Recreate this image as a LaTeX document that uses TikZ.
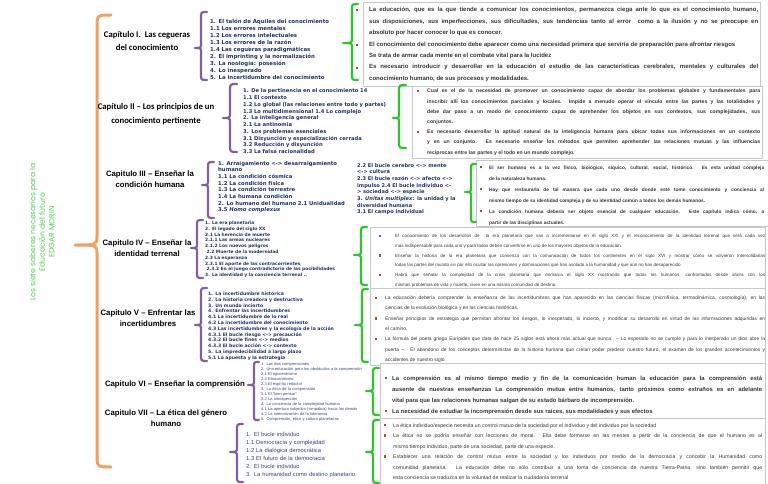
\documentclass[tikz,border=0pt]{standalone}
\usepackage{fontspec}
\setmainfont{Liberation Sans}
\newfontfamily\carl{Carlito}
\newfontfamily\dvs{DejaVu Sans}
\newfontfamily\pop{Poppins}
\definecolor{orangeb}{RGB}{240,160,96}
\definecolor{purpleb}{RGB}{128,96,160}
\definecolor{greenb}{RGB}{40,200,40}
\definecolor{titlegreen}{RGB}{80,210,80}
\definecolor{navy}{RGB}{31,52,110}
\definecolor{navyb}{RGB}{50,70,140}
\definecolor{pgray}{RGB}{55,55,55}
\definecolor{boxgray}{RGB}{200,200,200}
\definecolor{bred}{RGB}{200,60,50}
\newcommand{\setfs}[2]{\fontsize{#1}{#2}\selectfont}
% style, x, top, tip, bottom, hook width, tip length, tip radius
\newcommand{\mybrace}[8]{%
  \draw[#1] ({#2+#6},#3) .. controls (#2,#3) .. (#2,{#3+#6}) -- (#2,{#4-#8})
    .. controls (#2,#4) .. ({#2-#7},#4) .. controls (#2,#4) .. (#2,{#4+#8})
    -- (#2,{#5-#6}) .. controls (#2,#5) .. ({#2+#6},#5);}
\begin{document}
\begin{tikzpicture}[x=1pt,y=-1pt,
  chapA/.style={align=center, inner sep=0, text=black, font=\carl\bfseries\setfs{8.7}{13.5}},
  chapB/.style={align=center, inner sep=0, text=black, font=\bfseries\setfs{7.8}{11}},
  lst/.style={anchor=base west, inner sep=0, text width=200pt, align=left, text=navy},
  para/.style={anchor=base west, inner sep=0, align=justify, text=pgray,
    execute at begin node={\tolerance=10000\hbadness=10000\hfuzz=20pt\hyphenpenalty=10000\linepenalty=5000}},
  pbox/.style={draw=boxgray, line width=0.6pt, anchor=north west, inner sep=0, fill=white},
  bul/.style={fill=bred, minimum size=2.4pt, inner sep=0},
  obrace/.style={draw=orangeb, line width=3pt, line cap=round, line join=round},
  pbrace/.style={draw=purpleb, line width=2.2pt, line cap=round, line join=round},
  gbrace/.style={draw=greenb, line width=2.2pt, line cap=round, line join=round}]
\fill[white] (0,0) rectangle (768,484);
\useasboundingbox (0,0) rectangle (768,484);

% boxes
\node[pbox, minimum width=397pt, minimum height=84pt] (box1) at (363,2) {};
\node[pbox, minimum width=350pt, minimum height=72pt] (box2) at (412,86) {};
\node[pbox, minimum width=300pt, minimum height=66pt] (box3) at (476,160) {};
\node[pbox, minimum width=395pt, minimum height=61pt] (box4) at (370,227) {};
\node[pbox, minimum width=395pt, minimum height=77pt] (box5) at (370,288) {};
\node[pbox, minimum width=385pt, minimum height=55pt] (box6) at (380,363) {};
\node[pbox, minimum width=385pt, minimum height=70pt] (box7) at (380,418) {};

% title
\node[rotate=90, align=center, inner sep=0, text=titlegreen, font=\pop\setfs{7.6}{9.6}] (title) at (42,232)
  {Los siete saberes necesarios para la\\Educación del futuro\\EDGAR MORIN};

% main brace
\mybrace{obrace}{97}{15}{245}{467}{14}{22}{9}

% chapters
\node[chapA] (c1) at (147,41) {Capítulo I.\ \ Las cegueras\\del conocimiento};
\node[chapA] (c2) at (156,114) {Capítulo II – Los principios de un\\conocimiento pertinente};
\node[chapB] (c3) at (150,179) {Capitulo III – Enseñar la\\condición humana};
\node[chapB] (c4) at (147,248) {Capitulo IV – Enseñar la\\identidad terrenal};
\node[chapB] (c5) at (148,318) {Capitulo V – Enfrentar las\\incertidumbres};
\node[chapB] (c6) at (175,384) {Capitulo VI – Enseñar la comprensión};
\node[chapB] (c7) at (166,418) {Capitulo VII – La ética del género\\humano};

% purple braces
\mybrace{pbrace}{201}{12}{48}{80}{6}{6}{5}
\mybrace{pbrace}{230}{84}{118}{152}{7}{7}{5}
\mybrace{pbrace}{208}{162}{185}{218}{6}{6}{5}
\mybrace{pbrace}{197}{220}{248}{278}{6}{6}{5}
\mybrace{pbrace}{201}{288}{325}{361}{6}{6}{5}
\mybrace{pbrace}{254}{362}{385}{420}{5}{6}{5}
\mybrace{pbrace}{237}{424}{452}{482}{6}{7}{5}

% lists
\node[lst, font=\dvs\bfseries\setfs{5.4}{6.9}] (l1) at (210,24) {1. El talón de Aquiles del conocimiento\\1.1 Los errores mentales\\1.2 Los errores intelectuales\\1.3 Los errores de la razón\\1.4 Las cegueras paradigmáticas\\2. El imprinting y la normalización\\3. La noología: posesión\\4. Lo inesperado\\5. La incertidumbre del conocimiento};
\node[lst, font=\dvs\bfseries\setfs{5.2}{6.75}] (l2) at (243,93) {1. De la pertinencia en el conocimiento 14\\1.1 El contexto\\1.2 Lo global (las relaciones entre todo y partes)\\1.3 Lo multidimensional 1.4 Lo complejo\\2. La inteligencia general\\2.1 La antinomia\\3. Los problemas esenciales\\3.1 Disyunción y especialización cerrada\\3.2 Reducción y disyunción\\3.3 La falsa racionalidad};
\node[lst, font=\dvs\bfseries\setfs{5.3}{6.7}] (l3a) at (218,165) {1. Arraigamiento <-> desarraigamiento\\humano\\1.1 La condición cósmica\\1.2 La condición física\\1.3 La condición terrestre\\1.4 La humana condición\\2. Lo humano del humano 2.1 Unidualidad\\3.5 \textit{Homo complexus}};
\node[lst, font=\dvs\bfseries\setfs{5.1}{6.7}] (l3b) at (357,167) {2.2 El bucle cerebro <-> mente\\<-> cultura\\2.3 El bucle razón <-> afecto <->\\impulso 2.4 El bucle individuo <-\\> sociedad <-> especie\\3. \textit{Unitas multiplex}: la unidad y la\\diversidad humana\\3.1 El campo individual};
\node[lst, font=\dvs\bfseries\setfs{4.4}{5.8}] (l4) at (205,224.5) {1. La era planetaria\\2. El legado del siglo XX\\2.1 La herencia de muerte\\2.1.1 Las armas nucleares\\2.1.2 Los nuevos peligros\\\ 2.2 Muerte de la modernidad\\2.3 La esperanza\\2.3.1 El aporte de las contracorrientes\\\ 2.3.2 En el juego contradictorio de las posibilidades\\3. La identidad y la conciencia terrenal ..};
\node[lst, font=\dvs\bfseries\setfs{4.6}{5.8}] (l5) at (208,295.5) {1. La incertidumbre histórica\\2. La historia creadora y destructiva\\3. Un mundo incierto\\4. Enfrentar las incertidumbres\\4.1 La incertidumbre de lo real\\4.2 La incertidumbre del conocimiento\\4.3 Las incertidumbres y la ecología de la acción\\4.3.1 El bucle riesgo <-> precaución\\4.3.2 El bucle fines <-> medios\\4.3.3 El bucle acción <-> contexto\\5. La impredecibilidad a largo plazo\\5.1 La apuesta y la estrategia};
\node[lst, text=navyb, font=\setfs{4}{5}] (l6) at (261,365.5) {1. Las dos comprensiones\\2. Una educación para los obstáculos a la comprensión\\2.1 El egocentrismo\\2.2 Etnocentrismo\\2.3 El espíritu reductor\\3. La ética de la comprensión\\3.1 El “bien pensar”\\3.2 La introspección\\4. La conciencia de la complejidad humana\\4.1 La apertura subjetiva (simpática) hacia los demás\\4.2 La interiorización de la tolerancia\\5. Comprensión, ética y cultura planetarias};
\node[lst, text=navyb, font=\setfs{5.8}{8}] (l7) at (246,436) {1. El bucle individuo\\1.1 Democracia y complejidad\\1.2 La dialógica democrática\\1.3 El futuro de la democracia\\2. El bucle individuo\\3. La humanidad como destino planetario};

% green braces
\mybrace{gbrace}{352}{4}{43}{80}{6}{9}{5}
\mybrace{gbrace}{399}{85}{118}{148}{7}{6}{5}
\mybrace{gbrace}{471}{164}{192}{222}{5}{6}{5}
\mybrace{gbrace}{361}{227}{255}{285}{6}{7}{5}
\mybrace{gbrace}{362}{289}{325}{362}{6}{7}{5}
\mybrace{gbrace}{373}{368}{391}{415}{6}{7}{5}
\mybrace{gbrace}{373}{420}{452}{483}{6}{7}{5}

% paragraphs
\node[para, text width=389pt, font=\bfseries\setfs{6.0}{11.4}] (p1) at (369,12) {La educación, que es la que tiende a comunicar los conocimientos, permanezca ciega ante lo que es el conocimiento humano, \linebreak sus disposiciones, sus imperfecciones, sus dificultades, sus tendencias tanto al error\ \ como a la ilusión y no se preocupe en \linebreak absoluto por hacer conocer lo que es conocer.\par
El conocimiento del conocimiento debe aparecer como una necesidad primera que serviría de preparación para afrontar riesgos\par
Se trata de armar cada mente en el combate vital para la lucidez\par
Es necesario introducir y desarrollar en la educación el estudio de las características cerebrales, mentales y culturales del \linebreak conocimiento humano, de sus procesos y modalidades.};

\node[para, text width=333pt, font=\bfseries\setfs{5.15}{10.2}] (p2) at (427,93) {Cual es el de la necesidad de promover un conocimiento capaz de abordar los problemas globales y fundamentales para \linebreak inscribir allí los conocimientos parciales y locales. Impide a menudo operar el vínculo entre las partes y las totalidades y \linebreak debe dar paso a un modo de conocimiento capaz de aprehender los objetos en sus contextos, sus complejidades, sus \linebreak conjuntos.\par
Es necesario desarrollar la aptitud natural de la inteligencia humana para ubicar todas sus informaciones en un contexto \linebreak y en un conjunto. Es necesario enseñar los métodos que permiten aprehender las relaciones mutuas y las influencias \linebreak recíprocas entre las partes y el todo en un mundo complejo.};

\node[para, text width=275pt, font=\bfseries\setfs{4.8}{11}] (p3) at (489,169) {El ser humano es a la vez físico, biológico, síquico, cultural, social, histórico. Es esta unidad compleja \linebreak de la naturaleza humana.\par
Hay que restaurarla de tal manera que cada uno desde donde esté tome conocimiento y conciencia al \linebreak mismo tiempo de su identidad compleja y de su identidad común a todos los demás humanos.\par
La condición humana debería ser objeto esencial de cualquier educación. Este capítulo indica cómo, a \linebreak partir de las disciplinas actuales.};

\node[para, text width=370pt, font=\setfs{4.5}{9.8}] (p4) at (395,237.5) {El conocimiento de los desarrollos de\ \ la era planetaria que van a incrementarse en el siglo XXI y el reconocimiento de la identidad terrenal que será cada vez \linebreak más indispensable para cada uno y para todos deben convertirse en uno de los mayores objetos de la educación.\par
Enseñar la historia de la era planetaria que comienza con la comunicación de todos los continentes en el siglo XVI y mostrar cómo se volvieron intersolidarias \linebreak todas las partes del mundo sin por ello ocultar las opresiones y dominaciones que han asolado a la humanidad y que aún no han desaparecido.\par
Habrá que señalar la complejidad de la crisis planetaria que enmarca el siglo XX mostrando que todos los humanos, confrontados desde ahora con los \linebreak mismos problemas de vida y muerte, viven en una misma comunidad de destino.};

\node[para, text width=380pt, font=\setfs{4.9}{10.3}] (p5) at (385,299.5) {La educación debería comprender la enseñanza de las incertidumbres que han aparecido en las ciencias físicas (microfísica, termodinámica, cosmología), en las \linebreak ciencias de la evolución biológica y en las ciencias históricas.\par
Enseñar principios de estrategia que permitan afrontar los riesgos, lo inesperado, lo incierto, y modificar su desarrollo en virtud de las informaciones adquiridas en \linebreak el camino.\par
La fórmula del poeta griego Eurípides que data de hace 25 siglos está ahora más actual que nunca. – Lo esperado no se cumple y para lo inesperado un dios abre la \linebreak puerta –. El abandono de los conceptos deterministas de la historia humana que creían poder predecir nuestro futuro, el examen de los grandes acontecimientos y \linebreak accidentes de nuestro siglo.};

\node[para, text width=370pt, font=\bfseries\setfs{5.9}{11}] (p6) at (392,380) {La comprensión es al mismo tiempo medio y fin de la comunicación human la educación para la comprensión está \linebreak ausente de nuestras enseñanzas La comprensión mutua entre humanos, tanto próximos como extraños es en adelante \linebreak vital para que las relaciones humanas salgan de su estado bárbaro de incomprensión.\par
La necesidad de estudiar la incomprensión desde sus raíces, sus modalidades y sus efectos};

\node[para, text width=369pt, font=\setfs{5.2}{10.5}] (p7) at (393,427) {La ética individuo/especie necesita un control mutuo de la sociedad por el individuo y del individuo por la sociedad\par
La ética no se podría enseñar con lecciones de moral. Ella debe formarse en las mentes a partir de la conciencia de que el humano es al \linebreak mismo tiempo individuo, parte de una sociedad, parte de una especie.\par
Establecer una relación de control mutuo entre la sociedad y los individuos por medio de la democracia y concebir la Humanidad como \linebreak comunidad planetaria. La educación debe no sólo contribuir a una toma de conciencia de nuestra Tierra-Patria, sino también permitir que \linebreak esta conciencia se traduzca en la voluntad de realizar la ciudadanía terrenal};

% bullets
\foreach \bx/\by [count=\i] in {357/10, 357/45, 357/68, 418/91, 418/132, 481/167, 481/189, 481/211,
  380/236, 380/255.6, 380/275.2, 376/298, 376/318.6, 376/339.2, 386/378, 386/411, 385/425, 385/435.5, 385/456.5}
  \node[bul] (b\i) at (\bx,\by) {};
\end{tikzpicture}
\end{document}
